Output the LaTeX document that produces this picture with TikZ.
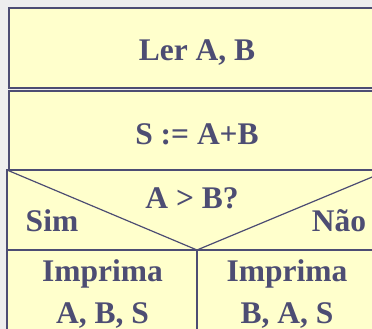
\documentclass[tikz,border=0pt]{standalone}
\usepackage{fontspec}
\setmainfont{Liberation Serif}
\definecolor{ink}{HTML}{4D4D73}
\definecolor{pale}{HTML}{FFFFCC}
\definecolor{paper}{HTML}{EEEEEE}
\begin{document}
\begin{tikzpicture}[x=1pt,y=-1pt,
  nsbox/.style={draw=ink, fill=pale, line width=1.5pt},
  nsline/.style={draw=ink, line width=1.2pt},
  lbl/.style={text=ink, font=\fontsize{31.5}{42}\selectfont\bfseries, inner sep=0pt, anchor=base, align=center}]
\useasboundingbox (0,0) rectangle (372,329);
\fill[paper] (0,0) rectangle (372,329);
\clip (0,0) rectangle (372,329);
% sequence blocks
\draw[nsbox] (9,8) rectangle (387,88);
\draw[nsbox] (9,91) rectangle (387,170);
% decision block
\coordinate (dl) at (7,170);
\coordinate (dv) at (197,250);
\coordinate (dr) at (389,170);
\draw[nsbox] (dl) rectangle (389,250);
\draw[nsline] (dl) -- (dv) -- (dr);
% branch blocks
\coordinate (vb) at (197,340);
\draw[nsbox] (7,250) rectangle (389,340);
\draw[nsline] (dv) -- (vb);
% texts
\node[lbl] (ler) at (197,60) {Ler A, B};
\node[lbl] (soma) at (197,144) {S := A+B};
\node[lbl] (cond) at (192,208) {A > B?};
\node[lbl] (sim) at (52,231) {Sim};
\node[lbl] (nao) at (339,231) {Não};
\node[lbl] (impl) at (102.5,323) {Imprima\\A, B, S};
\node[lbl] (impr) at (287,323) {Imprima\\B, A, S};
\end{tikzpicture}
\end{document}
